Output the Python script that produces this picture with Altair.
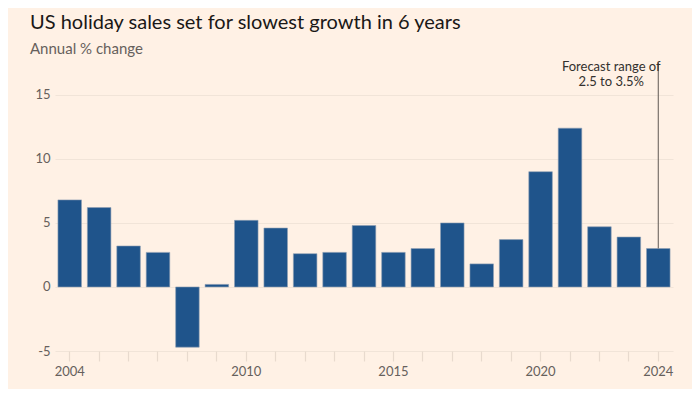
import altair as alt
import pandas as pd

years = [str(y) for y in range(2004, 2025)]
values = [6.8, 6.2, 3.2, 2.7, -4.7, 0.2, 5.2, 4.6, 2.6, 2.7, 4.8, 2.7, 3.0, 5.0, 1.8, 3.7, 9.0, 12.4, 4.7, 3.9, 3.0]
y_ticks = [-5, 0, 5, 10, 15]
x_labels = ["2004", "2010", "2015", "2020", "2024"]

note_year = ["2024"]
note_low = [3.0]
note_high = [17.5]
note_text = [["Forecast range of", "2.5 to 3.5%"]]
note_text_y = [16.85]

df = pd.DataFrame({"year": years, "value": values})
note = pd.DataFrame({"year": note_year, "low": note_low, "high": note_high,
                     "ty": note_text_y, "text": note_text})

BG = "#FFF1E5"
FONT = "Lato"

x_enc = alt.X("year:N", sort=years, title=None,
              scale=alt.Scale(paddingInner=0.2, paddingOuter=0.1),
              axis=alt.Axis(labelExpr="indexof(" + str(x_labels) + ", datum.label) >= 0 ? datum.label : ''",
                            labelAngle=0, domain=False, ticks=True, tickSize=10,
                            tickColor="#E8DACE", tickWidth=1.2, labelPadding=4,
                            labelFontSize=13, labelColor="#66605C", labelFont=FONT,
                            grid=False))

y_scale = alt.Scale(domain=[-5, 17.8], nice=False, zero=False)

bars = alt.Chart(df).mark_bar(color="#1F548B", stroke="#8E9FB3", strokeWidth=0.6).encode(
    x=x_enc,
    y=alt.Y("value:Q", scale=y_scale, title=None,
            axis=alt.Axis(values=y_ticks, domain=False, ticks=False, labelPadding=5,
                          labelExpr="toString(datum.value)",
                          gridColor="#F1E4D8", gridWidth=1.2,
                          labelFontSize=13, labelColor="#66605C", labelFont=FONT)),
)

rule = alt.Chart(note).mark_rule(color="#6E6660", strokeWidth=1.1, clip=False).encode(
    x=alt.X("year:N", sort=years),
    y=alt.Y("low:Q", scale=y_scale),
    y2="high:Q",
)

label = alt.Chart(note).mark_text(align="center", baseline="alphabetic", dx=-47,
                                  fontSize=13, font=FONT, color="#33302E",
                                  lineHeight=15, clip=False).encode(
    x=alt.X("year:N", sort=years),
    y=alt.Y("ty:Q", scale=y_scale),
    text="text",
)

chart = alt.layer(bars, rule, label).properties(
    width=618, height=292,
    background=BG,
    padding={"left": 47, "top": 51, "right": 19, "bottom": 38},
    autosize=alt.AutoSizeParams(type="none"),
    title=alt.TitleParams(
        text="US holiday sales set for slowest growth in 6 years",
        subtitle="Annual % change",
        anchor="start", frame="group", dx=-25, offset=2,
        font=FONT, fontSize=20, fontWeight="normal", color="#1A1817",
        subtitleFont=FONT, subtitleFontSize=15, subtitleColor="#66605C",
        subtitlePadding=9,
    ),
).configure_view(stroke=None)

chart.save("out.html", embed_options={"renderer": "svg", "actions": False})
